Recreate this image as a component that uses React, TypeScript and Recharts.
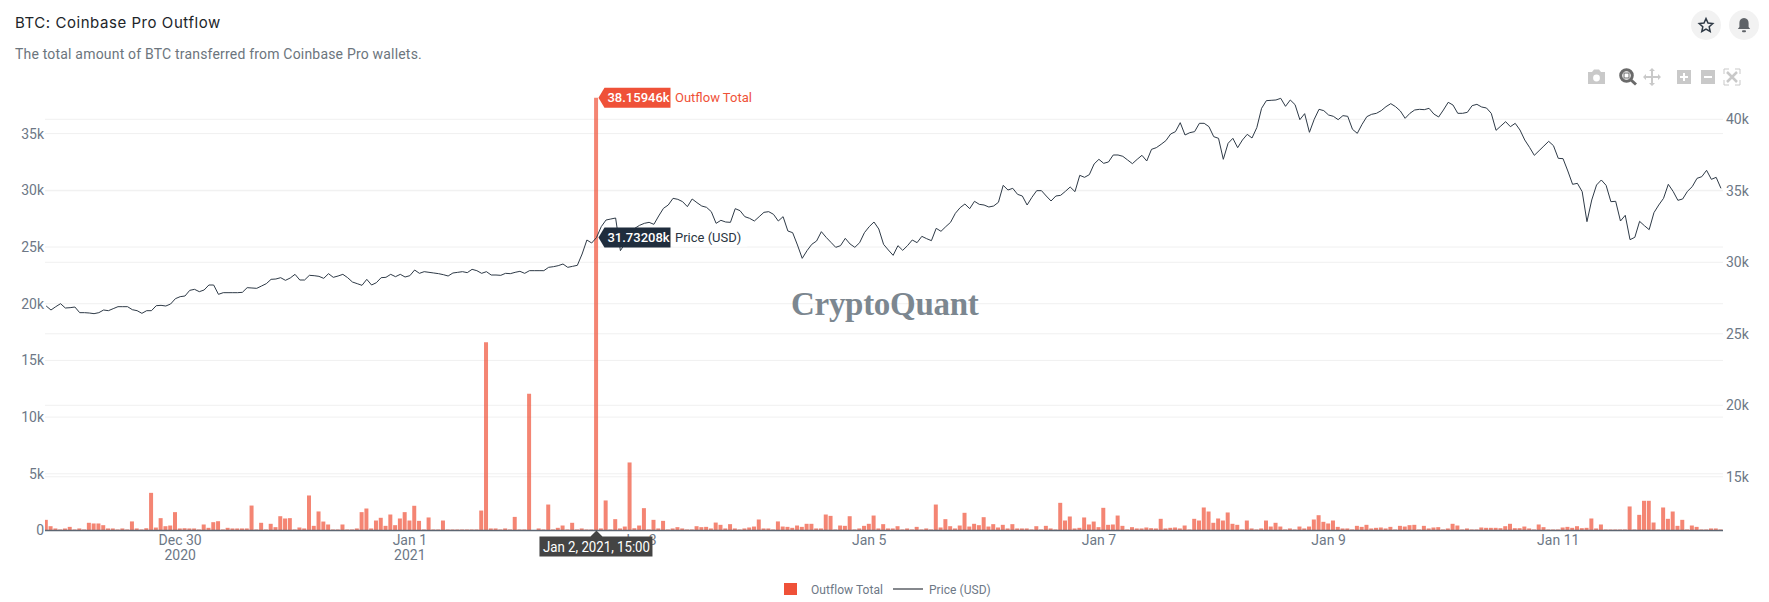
import React from "react";
import { ComposedChart, Bar, Line, XAxis, YAxis, CartesianGrid, ReferenceDot } from "recharts";

const TITLE = "BTC: Coinbase Pro Outflow";
const SUBTITLE = "The total amount of BTC transferred from Coinbase Pro wallets.";
const OUTFLOW_NAME = "Outflow Total";
const PRICE_NAME = "Price (USD)";

// Hourly series, first hour = Dec 28 2020 20:00
const outflow = [
  940,380,180,90,180,320,90,180,90,680,620,620,470,180,180,90,180,90,800,180,90,200,
  3320,260,1090,380,440,1620,180,200,180,180,90,530,235,735,820,90,235,180,180,180,180,
  2200,90,680,90,590,295,1260,1060,1090,90,265,180,3090,410,1680,790,530,90,90,530,90,90,
  180,1620,1940,180,880,1120,410,1410,470,1060,1620,880,2180,850,90,1150,90,90,880,90,
  90,90,90,90,90,90,
  1760,16600,180,180,90,180,90,1200,90,90,12060,40,180,90,2290,90,235,440,90,680,90,180,90,90,
  38159.46,180,2650,90,1000,180,350,6000,200,440,1970,90,940,180,850,90,180,295,180,90,90,380,295,320,180,
  700,500,180,560,180,90,180,265,350,970,180,180,90,800,350,320,235,440,320,590,590,180,180,1410,1290,90,440,410,1260,90,
  180,410,590,1320,180,560,180,180,380,
  90,180,90,320,90,180,90,2290,265,1000,380,180,440,1560,350,590,470,1175,350,560,265,500,
  180,560,180,180,180,90,380,90,410,180,90,2440,880,1235,180,235,1150,530,790,295,2000,500,530,1320,410,90,295,180,180,265,205,180,
  1030,180,235,265,180,440,90,1030,880,2030,1675,680,1060,880,1590,590,500,90,880,180,90,180,880,350,680,350,90,180,90,350,180,350,970,1350,765,620,880,320,180,180,
  90,410,320,500,180,235,265,180,320,90,410,350,470,500,90,410,180,265,295,90,180,590,440,90,180,90,90,
  265,235,235,235,205,380,590,205,205,350,180,90,530,295,90,90,90,265,320,235,380,205,235,1060,180,530,90,90,90,90,90,
  2120,90,1380,2620,2620,705,90,2030,1030,1675,410,940,90,440,320,90,90,180,180,90,
];

const price = [
  26944,26664,26897,27107,26804,26827,26874,26478,26478,26454,
  26408,26478,26664,26617,26757,26897,26897,26897,26687,26617,
  26431,26617,26617,26967,26990,26944,27084,27457,27597,27643,
  28039,28109,27946,28063,28412,28412,27760,27876,27876,27876,
  27876,27900,28226,28203,28179,28342,28506,28809,28832,28925,
  28739,28902,29158,28762,28762,29088,29065,29018,28878,29205,
  28949,29042,29158,28925,28622,28506,28389,28809,28412,28575,
  28925,28949,29158,28995,29158,28972,29065,29461,29228,29345,
  29298,29252,29205,29135,29042,29252,29298,29345,29275,29508,
  29415,29228,29345,29112,29112,29088,29228,29205,29298,29368,
  29228,29415,29415,29415,29415,29648,29694,29764,29881,29648,
  29718,29788,30580,31559,31349,31732,32492,32958,33028,33098,
  30814,31327,31909,32375,32585,32725,32795,32655,33238,33774,
  34007,34473,34403,34240,33891,34427,34170,33937,33844,33541,
  32725,32935,32818,32795,33751,33611,33191,33075,32888,33191,
  33494,33541,33354,32888,33191,32189,32072,31210,30277,30813,
  31257,31490,32142,31746,31396,31047,31163,31676,31280,31047,
  31373,32072,32492,32818,32329,31257,30860,30487,31163,30837,
  31163,31560,31373,31816,31653,31513,32375,32166,32492,32795,
  33424,33821,34077,33751,34264,34054,34007,33867,33937,34194,
  35382,35056,35173,34753,34636,34007,34543,35010,35010,34636,
  34287,34636,34683,34963,35266,34940,36082,35942,36128,36875,
  37201,36921,37015,37504,37504,37411,37155,36898,37201,37481,
  37085,37900,38017,38250,38507,38973,39136,39765,38903,39066,
  39136,39719,39719,39486,38786,38670,37201,38320,38670,38017,
  38553,38949,38693,39416,40768,41304,41327,41350,41467,40907,
  41350,41024,39975,40395,39089,39998,40698,40605,40301,40208,
  39975,40255,40208,39299,39019,39649,40185,40348,40418,40605,
  40884,41094,40884,40581,40068,40418,40651,40698,40674,40768,
  40371,40161,40651,41187,41000,40418,40418,40487,40954,41047,
  40860,40791,40418,39229,39532,39835,39485,39718,39252,38553,
  38040,37480,37807,38133,38459,38156,37271,37247,36385,35453,
  35522,34940,32842,34357,35406,35756,35382,34240,34264,32888,
  33285,31583,31746,32865,32562,32282,33471,34007,34473,35453,
  34963,34334,34427,34963,35289,35872,35989,36432,35802,35942,
  35173,
];

const xTickHours = [28, 76, 124, 172, 220, 268, 316];
const xTickLabels = ["Dec 30", "Jan 1", "Jan 3", "Jan 5", "Jan 7", "Jan 9", "Jan 11"];
const xTickYears = ["2020", "2021", "", "", "", "", ""];
const leftTicks = [0, 5000, 10000, 15000, 20000, 25000, 30000, 35000];
const rightTicks = [15000, 20000, 25000, 30000, 35000, 40000];
const hoverHour = 115;
const hoverOutflow = 38159.46;
const hoverPrice = 31732.08;
const hoverLabel = "Jan 2, 2021, 15:00";

const rows = outflow.map((v, i) => ({ hour: i, outflow: v, price: price[i] }));

const FONT = "Roboto, sans-serif";
const TICK = "#6d7886";
const RED = "#ef5138";

const kFmt = (n: number) => (n === 0 ? "0" : `${n / 1000}k`);

// The hovered hour is the last tick of the axis, so its dark label lies above the date labels.
function XTick({ x, y, payload }: any) {
  if (payload.value === hoverHour) {
    const cy = y - 8;
    const top = cy + 6;
    return (
      <g fontFamily={FONT}>
        <polygon
          points={`${x},${cy} ${x + 6},${top} ${x + 56},${top} ${x + 56},${top + 20} ${x - 57},${top + 20} ${x - 57},${top} ${x - 6},${top}`}
          fill="#444"
        />
        <text x={x} y={top + 15} fontSize={14} fill="#fff" textAnchor="middle" textLength={107} lengthAdjust="spacingAndGlyphs">{hoverLabel}</text>
      </g>
    );
  }
  const i = xTickHours.indexOf(payload.value);
  return (
    <g fontFamily={FONT} fontSize={14} fill={TICK} textAnchor="middle">
      <text x={x} y={y + 6}>{xTickLabels[i]}</text>
      {xTickYears[i] ? <text x={x} y={y + 21}>{xTickYears[i]}</text> : null}
    </g>
  );
}

function ValueTag({ cx, cy, text, name, fill, nameColor }: any) {
  const tip = cx + 2;
  const left = tip + 6;
  const w = 66;
  return (
    <g fontFamily={FONT}>
      <rect x={left + w + 2} y={cy - 9} width={75} height={18} fill="#fff" />
      <polygon points={`${tip},${cy} ${left},${cy - 10} ${left + w},${cy - 10} ${left + w},${cy + 10} ${left},${cy + 10}`} fill={fill} />
      <text x={left + 3} y={cy + 4.5} fontSize={13} fontWeight={500} fill="#fff">{text}</text>
      <text x={left + w + 4.5} y={cy + 4.5} fontSize={13} fill={nameColor}>{name}</text>
    </g>
  );
}

const Mono = ({ x, children }: any) => (
  <svg style={{ position: "absolute", left: x - 12, top: 65, overflow: "visible" }} width={24} height={24} viewBox="0 0 24 24">
    {children}
  </svg>
);

function Icons() {
  const light = "#c9c9c9";
  return (
    <>
      <div style={{ position: "absolute", left: 1691, top: 10, width: 30, height: 30, borderRadius: 15, background: "#f2f2f2" }} />
      <div style={{ position: "absolute", left: 1729, top: 10, width: 30, height: 30, borderRadius: 15, background: "#f2f2f2" }} />
      <svg style={{ position: "absolute", left: 1691, top: 10 }} width={30} height={30}>
        <polygon points="15,8.5 17,13 21.8,13.5 18.2,16.8 19.2,21.5 15,19.1 10.8,21.5 11.8,16.8 8.2,13.5 13,13" fill="none" stroke="#2f3a46" strokeWidth={1.5} />
      </svg>
      <svg style={{ position: "absolute", left: 1729, top: 10 }} width={30} height={30}>
        <path d="M15 8 c-3 0 -4.6 2.2 -4.6 5 v4 l-1.6 2 h12.4 l-1.6 -2 v-4 c0 -2.8 -1.6 -5 -4.6 -5 z" fill="#5f6368" />
        <rect x={13} y={20.3} width={4} height={2} rx={1} fill="#5f6368" />
      </svg>
      <Mono x={1596}>
        <path d="M4 7 h4 l2 -2.5 h5 l2 2.5 h4 v12 h-17 z" fill={light} />
        <circle cx={12.5} cy={13} r={3.4} fill="#fff" />
      </Mono>
      <Mono x={1628}>
        <circle cx={10.5} cy={10.5} r={5.8} fill="none" stroke="#6a6a6a" strokeWidth={3} />
        <rect x={8} y={8} width={5} height={5} fill="none" stroke="#6a6a6a" strokeWidth={1} />
        <line x1={15} y1={15} x2={20} y2={19.5} stroke="#6a6a6a" strokeWidth={3} />
      </Mono>
      <Mono x={1652}>
        <path d="M12 4 v16 M4 12 h16" stroke={light} strokeWidth={2} />
        <path d="M12 3 l3 3 h-6 z M12 21 l3 -3 h-6 z M3 12 l3 -3 v6 z M21 12 l-3 -3 v6 z" fill={light} />
      </Mono>
      <Mono x={1684}>
        <rect x={5} y={5} width={14} height={14} fill={light} />
        <path d="M12 8 v8 M8 12 h8" stroke="#fff" strokeWidth={2} />
      </Mono>
      <Mono x={1708}>
        <rect x={5} y={5} width={14} height={14} fill={light} />
        <path d="M8 12 h8" stroke="#fff" strokeWidth={2} />
      </Mono>
      <Mono x={1732}>
        <path d="M4 9 V4 h5 M15 4 h5 v5 M4 15 v5 h5 M15 20 h5 v-5" fill="none" stroke={light} strokeWidth={1} />
        <path d="M7 7 L17 17 M17 7 L7 17" stroke={light} strokeWidth={2.5} />
      </Mono>
    </>
  );
}

function LegendBlock() {
  const text: React.CSSProperties = { position: "absolute", top: 582, fontFamily: FONT, fontSize: 12, color: "#6d7886", letterSpacing: 0.05, lineHeight: "16px", whiteSpace: "nowrap" };
  return (
    <>
      <div style={{ position: "absolute", left: 784, top: 583, width: 13, height: 12, background: RED }} />
      <div style={{ ...text, left: 811 }}>{OUTFLOW_NAME}</div>
      <div style={{ position: "absolute", left: 893, top: 588, width: 30, height: 2, background: "#85888d" }} />
      <div style={{ ...text, left: 929 }}>{PRICE_NAME}</div>
    </>
  );
}

export default function App() {
  return (
    <div style={{ position: "absolute", left: 0, top: 0, width: 1769, height: 602, background: "#fff", overflow: "hidden" }}>
      <div style={{ position: "absolute", left: 15, top: 13, fontFamily: "Inter, sans-serif", fontSize: 15, fontWeight: 400, letterSpacing: 0.55, color: "#212529", whiteSpace: "nowrap" }}>{TITLE}</div>
      <div style={{ position: "absolute", left: 15, top: 46, fontFamily: FONT, fontSize: 14, color: "#6c757d", letterSpacing: 0.19, whiteSpace: "nowrap" }}>{SUBTITLE}</div>
      <Icons />
      <LegendBlock />
      <div style={{ position: "absolute", left: 0, top: 0 }}>
        <ComposedChart
          width={1769}
          height={602}
          data={rows}
          margin={{ top: 90, right: 0, bottom: 31.5, left: 0 }}
        >
          <CartesianGrid yAxisId="left" vertical={false} stroke="#f0f0f0" strokeWidth={1} syncWithTicks />
          <CartesianGrid yAxisId="right" vertical={false} stroke="#f0f0f0" strokeWidth={1} syncWithTicks />
          <XAxis
            dataKey="hour"
            type="number"
            domain={[-0.25, 350.43]}
            allowDataOverflow
            ticks={[...xTickHours, hoverHour]}
            interval={0}
            tick={<XTick />}
            tickLine={false}
            height={40}
            axisLine={{ stroke: "#5d6672", strokeWidth: 1.5 }}
          />
          <YAxis
            yAxisId="left"
            orientation="left"
            width={45}
            domain={[0, 38845]}
            ticks={leftTicks}
            interval={0}
            tickFormatter={kFmt}
            tickLine={false}
            tickSize={0}
            axisLine={false}
            tickMargin={1}
            tick={{ fill: TICK, fontFamily: FONT, fontSize: 14 }}
          />
          <YAxis
            yAxisId="right"
            orientation="right"
            width={46}
            domain={[11245, 42049]}
            ticks={rightTicks}
            interval={0}
            tickFormatter={kFmt}
            tickLine={false}
            tickSize={0}
            axisLine={false}
            tickMargin={3}
            tick={{ fill: TICK, fontFamily: FONT, fontSize: 14 }}
          />
          <Bar yAxisId="left" dataKey="outflow" name={OUTFLOW_NAME} barSize={4} fill={RED} fillOpacity={0.7} isAnimationActive={false} />
          <Line yAxisId="right" dataKey="price" name={PRICE_NAME} type="linear" stroke="#2e3a47" strokeWidth={1} dot={false} activeDot={false} isAnimationActive={false} />
          <ReferenceDot yAxisId="left" x={hoverHour} y={hoverOutflow} ifOverflow="visible"
            shape={(p: any) => <ValueTag {...p} text="38.15946k" name={OUTFLOW_NAME} fill={RED} nameColor={RED} />} />
          <ReferenceDot yAxisId="right" x={hoverHour} y={hoverPrice} ifOverflow="visible"
            shape={(p: any) => <ValueTag {...p} text="31.73208k" name={PRICE_NAME} fill="#1f2d3d" nameColor="#2a3542" />} />
        </ComposedChart>
      </div>
      <div style={{ position: "absolute", left: 791, top: 286, width: 186, fontFamily: "'Liberation Serif', serif", fontWeight: 700, fontSize: 33, color: "#7c8790", whiteSpace: "nowrap", letterSpacing: -0.3 }}>CryptoQuant</div>
    </div>
  );
}
